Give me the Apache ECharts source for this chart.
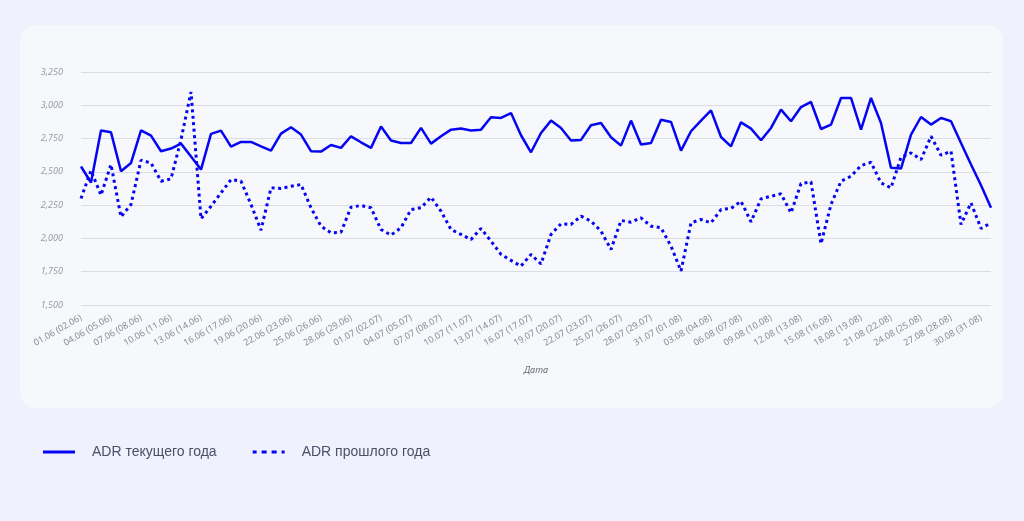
<!DOCTYPE html>
<html>
<head>
<meta charset="utf-8">
<script src="https://cdn.jsdelivr.net/npm/echarts@6/dist/echarts.min.js"></script>
<style>
  html, body { margin: 0; padding: 0; background: #eff1fc; }
  #card { position: absolute; left: 20px; top: 25px; width: 983px; height: 383px; background: #f7f8fc; border-radius: 16px; }
  #myChart { position: absolute; left: 0; top: 0; width: 1024px; height: 521px; }
</style>
</head>
<body>
<div id="card"></div>
<div id="myChart"></div>
<script>
// даты: текущий год (дата прошлого года в скобках)
var dates = [
  '01.06 (02.06)', '02.06 (03.06)', '03.06 (04.06)', '04.06 (05.06)', '05.06 (06.06)', '06.06 (07.06)',
  '07.06 (08.06)', '08.06 (09.06)', '09.06 (10.06)', '10.06 (11.06)', '11.06 (12.06)', '12.06 (13.06)',
  '13.06 (14.06)', '14.06 (15.06)', '15.06 (16.06)', '16.06 (17.06)', '17.06 (18.06)', '18.06 (19.06)',
  '19.06 (20.06)', '20.06 (21.06)', '21.06 (22.06)', '22.06 (23.06)', '23.06 (24.06)', '24.06 (25.06)',
  '25.06 (26.06)', '26.06 (27.06)', '27.06 (28.06)', '28.06 (29.06)', '29.06 (30.06)', '30.06 (01.07)',
  '01.07 (02.07)', '02.07 (03.07)', '03.07 (04.07)', '04.07 (05.07)', '05.07 (06.07)', '06.07 (07.07)',
  '07.07 (08.07)', '08.07 (09.07)', '09.07 (10.07)', '10.07 (11.07)', '11.07 (12.07)', '12.07 (13.07)',
  '13.07 (14.07)', '14.07 (15.07)', '15.07 (16.07)', '16.07 (17.07)', '17.07 (18.07)', '18.07 (19.07)',
  '19.07 (20.07)', '20.07 (21.07)', '21.07 (22.07)', '22.07 (23.07)', '23.07 (24.07)', '24.07 (25.07)',
  '25.07 (26.07)', '26.07 (27.07)', '27.07 (28.07)', '28.07 (29.07)', '29.07 (30.07)', '30.07 (31.07)',
  '31.07 (01.08)', '01.08 (02.08)', '02.08 (03.08)', '03.08 (04.08)', '04.08 (05.08)', '05.08 (06.08)',
  '06.08 (07.08)', '07.08 (08.08)', '08.08 (09.08)', '09.08 (10.08)', '10.08 (11.08)', '11.08 (12.08)',
  '12.08 (13.08)', '13.08 (14.08)', '14.08 (15.08)', '15.08 (16.08)', '16.08 (17.08)', '17.08 (18.08)',
  '18.08 (19.08)', '19.08 (20.08)', '20.08 (21.08)', '21.08 (22.08)', '22.08 (23.08)', '23.08 (24.08)',
  '24.08 (25.08)', '25.08 (26.08)', '26.08 (27.08)', '27.08 (28.08)', '28.08 (29.08)', '29.08 (30.08)',
  '30.08 (31.08)', '31.08 (01.09)'
]

var adrCurrent = [
  2540, 2420, 2810, 2797, 2505, 2567, 2812, 2772, 2655, 2675, 2712, 2615, 2517, 2785, 2810, 2690,
  2725, 2725, 2692, 2660, 2787, 2835, 2780, 2655, 2652, 2702, 2680, 2767, 2722, 2680, 2840,
  2735, 2717, 2717, 2830, 2712, 2767, 2817, 2825, 2810, 2817, 2910, 2905, 2942, 2775, 2647,
  2792, 2885, 2830, 2735, 2740, 2850, 2867, 2760, 2697, 2885, 2705, 2717, 2892, 2875, 2660, 2805,
  2885, 2962, 2762, 2692, 2872, 2825, 2737, 2830, 2967, 2880, 2987, 3025, 2822, 2855, 3055, 3055,
  2817, 3055, 2867, 2530, 2525, 2780, 2912, 2855, 2905, 2880, 2717, 2555, 2400, 2230
]

var adrPrevious = [
  2300, 2510, 2325, 2555, 2162, 2255, 2587, 2567, 2430, 2447, 2742, 3100, 2147, 2242, 2342, 2442,
  2430, 2255, 2062, 2380, 2375, 2392, 2405, 2230, 2092, 2042, 2047, 2235, 2247, 2230, 2067,
  2025, 2080, 2217, 2230, 2310, 2205, 2067, 2030, 1992, 2075, 1980, 1880, 1835, 1792, 1880,
  1808, 2030, 2110, 2105, 2167, 2130, 2055, 1917, 2135, 2122, 2155, 2092, 2080, 1942, 1755, 2117,
  2142, 2117, 2217, 2225, 2280, 2125, 2297, 2317, 2335, 2192, 2412, 2425, 1960, 2255, 2430, 2467,
  2547, 2572, 2417, 2380, 2610, 2642, 2592, 2767, 2625, 2655, 2105, 2267, 2075, 2117
]

var yMin = 1500
var yMax = 3250
var yStep = 250

var blue = '#0505f2'
var axisFont = "'Noto Sans', sans-serif"

// значки легенды: сплошная линия и пунктир
var iconSolid = 'path://M0,0 L32,0 L32,3 L0,3 Z'
var iconDotted = 'path://M0,0 L4,0 L4,3 L0,3 Z M9,0 L14,0 L14,3 L9,3 Z M19,0 L24,0 L24,3 L19,3 Z M29,0 L32,0 L32,3 L29,3 Z'

let myChart = echarts.init(document.getElementById('myChart'))
myChart.setOption({
  animation: false,
  backgroundColor: 'transparent',
  grid: { left: 81, right: 33, top: 72, bottom: 216 },
  legend: {
    left: 38,
    top: 440,
    itemWidth: 32,
    itemHeight: 3,
    itemGap: 36,
    textStyle: {
      fontFamily: "'Liberation Sans', Arial, sans-serif",
      fontSize: 14,
      color: '#4b5068',
      padding: [0, 0, 0, 12]
    },
    data: [
      { name: 'ADR текущего года', icon: iconSolid },
      { name: 'ADR прошлого года', icon: iconDotted }
    ]
  },
  xAxis: {
    type: 'category',
    boundaryGap: false,
    data: dates,
    name: 'Дата',
    nameLocation: 'middle',
    nameGap: 61,
    nameTextStyle: { fontFamily: axisFont, fontStyle: 'italic', fontSize: 9, color: '#6b6b78' },
    axisLine: { show: false },
    axisTick: { show: false },
    axisLabel: {
      interval: 2,
      rotate: 30,
      margin: 12,
      fontFamily: axisFont,
      fontSize: 9,
      color: '#8a8a95'
    },
    splitLine: { show: false }
  },
  yAxis: {
    type: 'value',
    min: yMin,
    max: yMax,
    interval: yStep,
    axisLine: { show: false },
    axisTick: { show: false },
    axisLabel: {
      margin: 18,
      fontFamily: axisFont,
      fontStyle: 'italic',
      fontSize: 9,
      color: '#9a9aa6',
      formatter: function (v) { return v.toLocaleString('en-US') }
    },
    splitLine: { lineStyle: { color: '#dcdde3', width: 1 } }
  },
  series: [
    {
      name: 'ADR текущего года',
      type: 'line',
      data: adrCurrent,
      symbol: 'none',
      lineStyle: { color: blue, width: 2.5 },
      itemStyle: { color: blue }
    },
    {
      name: 'ADR прошлого года',
      type: 'line',
      data: adrPrevious,
      symbol: 'none',
      lineStyle: { color: blue, width: 3, type: [3, 3.5] },
      itemStyle: { color: blue }
    }
  ]
})
</script>
</body>
</html>
